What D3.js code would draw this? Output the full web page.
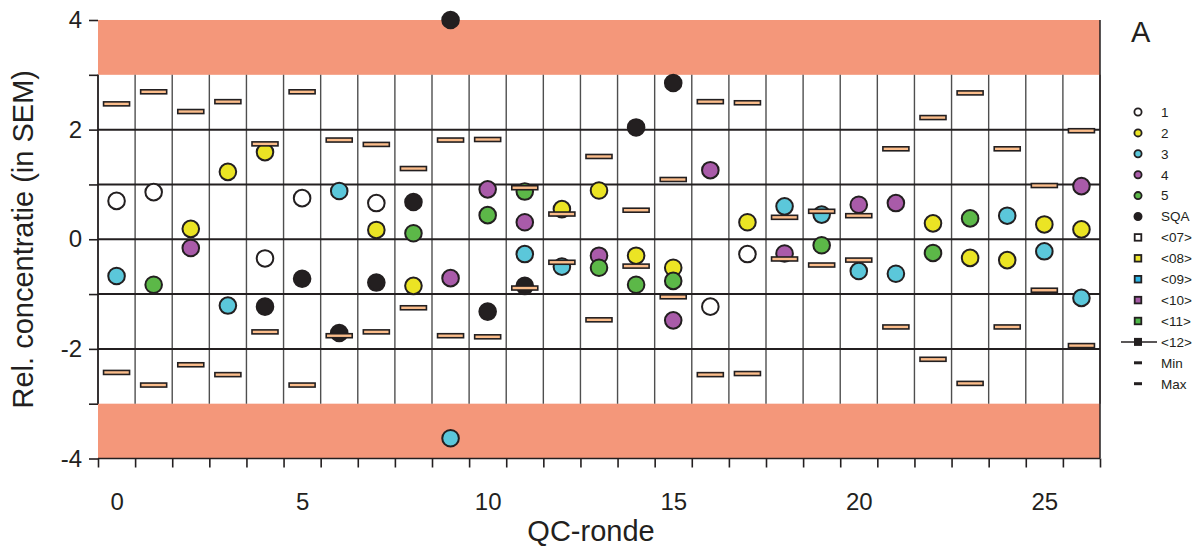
<!DOCTYPE html>
<html>
<head>
<meta charset="utf-8">
<script src="https://cdn.jsdelivr.net/npm/d3@7"></script>
<style>
  body { margin: 0; background: #fff; }
  svg { display: block; font-family: "Liberation Sans", Arial, sans-serif; }
</style>
</head>
<body>
<svg width="1198" height="546"></svg>
<script>
const rounds = [0, 1, 2, 3, 4, 5, 6, 7, 8, 9, 10, 11, 12, 13, 14, 15, 16, 17, 18, 19, 20, 21, 22, 23, 24, 25, 26];
const xLabels = [0, 5, 10, 15, 20, 25];
const yTicks = [-4, -3, -2, -1, 0, 1, 2, 3, 4];
const yLabels = [-4, -2, 0, 2, 4];
const gridLevels = [-2, -1, 0, 1, 2];

const s1 = [0.70, 0.86, null, null, -0.35, 0.75, null, 0.66, null, null, null, null, null, null, null, null, -1.23, -0.27, null, null, null, null, null, null, null, null, null];
const s2 = [null, null, 0.19, 1.23, 1.59, null, null, 0.17, -0.85, null, null, null, 0.55, 0.89, -0.30, -0.52, null, 0.31, null, null, null, null, 0.29, -0.34, -0.38, 0.27, 0.18];
const s3 = [-0.67, null, null, -1.21, null, null, 0.88, null, null, -3.63, null, -0.27, -0.50, null, null, null, null, null, 0.60, 0.45, -0.58, -0.63, null, null, 0.43, -0.22, -1.07];
const s4 = [null, null, -0.16, null, null, null, null, null, null, -0.71, 0.91, 0.31, null, -0.30, null, -1.48, 1.26, null, -0.26, null, 0.63, 0.66, null, null, null, null, 0.97];
const s5 = [null, -0.83, null, null, null, null, null, null, 0.11, null, 0.44, 0.87, null, -0.52, -0.83, -0.76, null, null, null, -0.11, null, null, -0.25, 0.38, null, null, null];
const sqa = [null, null, null, null, -1.23, -0.72, -1.71, -0.79, 0.68, 4.00, -1.32, -0.85, null, null, 2.04, 2.85, null, null, null, null, null, null, null, null, null, null, null];

const maxVals = [2.47, 2.69, 2.33, 2.51, 1.74, 2.69, 1.81, 1.73, 1.29, 1.81, 1.82, 0.94, 0.46, 1.51, 0.53, 1.09, 2.51, 2.49, 0.40, 0.51, 0.43, 1.65, 2.22, 2.67, 1.65, 0.98, 1.98];
const minVals = [-2.43, -2.66, -2.29, -2.47, -1.69, -2.66, -1.76, -1.69, -1.25, -1.76, -1.78, -0.89, -0.42, -1.47, -0.49, -1.05, -2.47, -2.45, -0.36, -0.47, -0.38, -1.60, -2.19, -2.63, -1.60, -0.93, -1.94];

const series = [
  { name: "1", values: s1, c: "#ffffff" },
  { name: "2", values: s2, c: "#ebe424" },
  { name: "3", values: s3, c: "#5bc7da" },
  { name: "4", values: s4, c: "#a95ba9" },
  { name: "5", values: s5, c: "#5cb848" },
  { name: "SQA", values: sqa, c: "#231f20" },
];
const squareLegend = [
  { name: "<07>", c: "#ffffff" },
  { name: "<08>", c: "#ede528" },
  { name: "<09>", c: "#2bb5e6" },
  { name: "<10>", c: "#a55aa6" },
  { name: "<11>", c: "#4db848" },
];

const ink = "#231f20";
const band = "#f4977a";
const barFill = "#fbbd8b";

const svg = d3.select("svg");

let x = d3.scaleLinear().domain([-0.5, 26.5]).range([98, 1100]);
let y = d3.scaleLinear().domain([-4, 4]).range([458.5, 20]);

// forbidden zones
svg.append("rect")
  .attr("x", x(-0.5)).attr("y", y(4))
  .attr("width", x(26.5) - x(-0.5)).attr("height", y(3) - y(4))
  .attr("fill", band);
svg.append("rect")
  .attr("x", x(-0.5)).attr("y", y(-3))
  .attr("width", x(26.5) - x(-0.5)).attr("height", y(-4) - y(-3))
  .attr("fill", band);

// vertical separators between rounds
let seps = rounds.map(r => r + 0.5);
svg.append("g").selectAll("line")
  .data([-0.5].concat(seps))
  .enter().append("line")
  .attr("x1", d => x(d)).attr("x2", d => x(d))
  .attr("y1", y(3)).attr("y2", y(-3))
  .attr("stroke", "#4f4f4f")
  .attr("stroke-width", 1.4);

svg.append("line")
  .attr("x1", x(26.5)).attr("x2", x(26.5))
  .attr("y1", y(4)).attr("y2", y(-4))
  .attr("stroke", ink).attr("stroke-width", 1.5);

svg.append("g").selectAll("line")
  .data(gridLevels)
  .enter().append("line")
  .attr("x1", x(-0.5)).attr("x2", x(26.5))
  .attr("y1", d => y(d)).attr("y2", d => y(d))
  .attr("stroke", ink)
  .attr("stroke-width", 2);

svg.append("line")
  .attr("x1", x(-0.5)).attr("x2", x(26.5))
  .attr("y1", y(-4)).attr("y2", y(-4))
  .attr("stroke", ink).attr("stroke-width", 1.3);

// y axis
let yAxis = svg.append("g")
  .attr("transform", `translate(${x(-0.5)},0)`)
  .call(d3.axisLeft(y).tickValues(yTicks).tickSize(9).tickPadding(7)
    .tickFormat(d => yLabels.includes(d) ? d : ""));
yAxis.select(".domain").remove();
yAxis.selectAll(".tick line").attr("stroke", ink).attr("stroke-width", 1.6);
yAxis.selectAll(".tick text").attr("fill", ink).attr("font-size", 24).attr("font-family", "Liberation Sans, Arial, sans-serif");
svg.append("line")
  .attr("x1", x(-0.5)).attr("x2", x(-0.5))
  .attr("y1", y(3)).attr("y2", y(-3))
  .attr("stroke", ink).attr("stroke-width", 1.6);

// x axis: ticks between rounds, labels under rounds
let xAxis = svg.append("g")
  .attr("transform", `translate(0,${y(-4)})`)
  .call(d3.axisBottom(x).tickValues([-0.5].concat(seps)).tickSize(9).tickFormat(""));
xAxis.select(".domain").remove();
xAxis.selectAll(".tick line").attr("stroke", ink).attr("stroke-width", 1.6);

let xLab = svg.append("g")
  .attr("transform", `translate(0,${y(-4)})`)
  .call(d3.axisBottom(x).tickValues(xLabels).tickSize(0).tickPadding(34));
xLab.select(".domain").remove();
xLab.selectAll(".tick text").attr("fill", ink).attr("font-size", 24).attr("font-family", "Liberation Sans, Arial, sans-serif");

svg.append("text")
  .attr("x", 591).attr("y", 541)
  .attr("text-anchor", "middle")
  .attr("font-size", 29)
  .attr("fill", ink)
  .text("QC-ronde");

svg.append("text")
  .attr("transform", `translate(33,${y(0)}) rotate(-90)`)
  .attr("text-anchor", "middle")
  .attr("font-size", 29)
  .attr("fill", ink)
  .text("Rel. concentratie (in SEM)");

svg.append("text")
  .attr("x", 1131).attr("y", 42)
  .attr("font-size", 29)
  .attr("fill", ink)
  .text("A");

// points
series.forEach(s => {
  svg.append("g").selectAll("circle")
    .data(rounds.filter(r => s.values[r] !== null))
    .enter().append("circle")
    .attr("cx", r => x(r))
    .attr("cy", r => y(s.values[r]))
    .attr("r", 8.3)
    .attr("fill", s.c)
    .attr("stroke", ink)
    .attr("stroke-width", 2);
});

// min / max markers
[minVals, maxVals].forEach(vals => {
  svg.append("g").selectAll("rect")
    .data(rounds)
    .enter().append("rect")
    .attr("x", r => x(r) - 13)
    .attr("y", r => y(vals[r]) - 2)
    .attr("width", 26)
    .attr("height", 4)
    .attr("fill", barFill)
    .attr("stroke", ink)
    .attr("stroke-width", 1.6);
});

// legend
let legend = svg.append("g").attr("transform", "translate(1138,112)");
let rowH = 20.9;

let items = legend.selectAll(".item")
  .data(series.map(s => ({ name: s.name, c: s.c, kind: "circle" }))
    .concat(squareLegend.map(s => ({ name: s.name, c: s.c, kind: "square" })))
    .concat([{ name: "<12>", c: ink, kind: "line" }, { name: "Min", kind: "dash" }, { name: "Max", kind: "dash" }]))
  .enter().append("g")
  .attr("class", "item")
  .attr("transform", (d, i) => `translate(0,${i * rowH})`);

items.filter(d => d.kind === "circle").append("circle")
  .attr("r", 3.6).attr("fill", d => d.c).attr("stroke", ink).attr("stroke-width", 1.8);
items.filter(d => d.kind === "square").append("rect")
  .attr("x", -3.3).attr("y", -3.3).attr("width", 6.6).attr("height", 6.6)
  .attr("fill", d => d.c).attr("stroke", ink).attr("stroke-width", 1.8);
items.filter(d => d.kind === "line").append("line")
  .attr("x1", -17).attr("x2", 19).attr("stroke", ink).attr("stroke-width", 1.5);
items.filter(d => d.kind === "line").append("rect")
  .attr("x", -4).attr("y", -4).attr("width", 8).attr("height", 8).attr("fill", ink);
items.filter(d => d.kind === "dash").append("rect")
  .attr("x", -4).attr("y", -1.5).attr("width", 8).attr("height", 3).attr("fill", ink);

items.append("text")
  .attr("x", 23).attr("dy", "0.36em")
  .attr("font-size", 13.5)
  .attr("fill", ink)
  .text(d => d.name);
</script>
</body>
</html>
